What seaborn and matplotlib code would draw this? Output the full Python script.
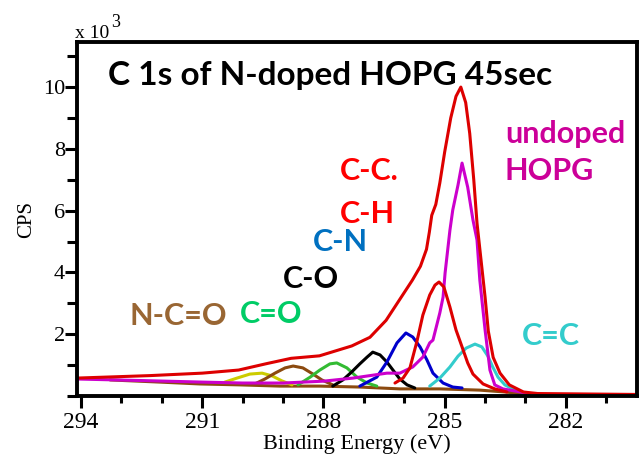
import numpy as np
import matplotlib
matplotlib.use("Agg")
import matplotlib.pyplot as plt
import seaborn as sns
from matplotlib.ticker import MultipleLocator

# ---- data (binding energy in eV, counts in x1000 CPS) ----
env_x = [294.1, 292.3, 291.0, 290.1, 289.4, 288.8, 288.1, 287.3, 286.85, 286.45,
         286.1, 285.8, 285.6, 285.45, 285.38, 285.32, 285.22, 285.12, 285.0, 284.85,
         284.72, 284.6, 284.48, 284.38, 284.28, 284.2, 284.1, 284.0, 283.92, 283.8,
         283.63, 283.4, 283.05, 282.7, 280.24]
env_y = [0.58, 0.66, 0.74, 0.84, 1.05, 1.22, 1.30, 1.62, 1.90, 2.45,
         3.15, 3.75, 4.2, 4.75, 5.3, 5.85, 6.2, 6.9, 7.9, 9.0,
         9.7, 10.0, 9.5, 8.5, 7.0, 5.6, 4.4, 3.2, 2.1, 1.25,
         0.74, 0.36, 0.13, 0.08, 0.05]

undoped_x = [294.1, 292.5, 291.0, 290.0, 289.0, 288.0, 287.27, 286.43, 286.11, 285.79,
             285.54, 285.37, 285.29, 285.12, 285.04, 284.99, 284.87, 284.80, 284.67, 284.57,
             284.43, 284.30, 284.20, 284.13, 284.0, 283.88, 283.76, 283.56, 282.9]
undoped_y = [0.55, 0.50, 0.45, 0.42, 0.42, 0.48, 0.58, 0.74, 0.74, 0.94,
             1.26, 1.72, 1.81, 2.69, 3.2, 3.98, 5.37, 6.02, 6.83, 7.54,
             6.76, 5.70, 5.05, 3.75, 2.14, 0.84, 0.36, 0.23, 0.08]

cc_x = [286.23, 286.03, 285.86, 285.69, 285.54, 285.37, 285.24, 285.14, 285.02, 284.87,
        284.72, 284.57, 284.43, 284.30, 284.05, 283.76, 283.46]
cc_y = [0.42, 0.58, 0.91, 1.75, 2.62, 3.27, 3.59, 3.69, 3.53, 2.88,
        2.14, 1.59, 1.07, 0.71, 0.39, 0.23, 0.13]

ceqc_x = [285.37, 285.12, 284.87, 284.67, 284.47, 284.25, 284.08, 283.93, 283.81, 283.68,
          283.51, 283.26]
ceqc_y = [0.32, 0.58, 0.94, 1.29, 1.55, 1.68, 1.59, 1.29, 0.94, 0.61,
          0.36, 0.19]

cn_x = [287.10, 286.68, 286.43, 286.18, 285.96, 285.79, 285.61, 285.44, 285.29, 285.04,
        284.80, 284.57]
cn_y = [0.32, 0.61, 1.10, 1.72, 2.04, 1.91, 1.59, 1.17, 0.74, 0.42,
        0.29, 0.26]

co_x = [287.77, 287.52, 287.30, 287.10, 286.92, 286.78, 286.60, 286.43, 286.28, 286.11,
        285.93, 285.74]
co_y = [0.32, 0.52, 0.78, 1.04, 1.26, 1.42, 1.33, 1.10, 0.84, 0.55,
        0.36, 0.26]

ceqo_x = [288.63, 288.33, 288.09, 287.84, 287.67, 287.42, 287.17, 286.92, 286.68]
ceqo_y = [0.36, 0.61, 0.84, 1.04, 1.07, 0.91, 0.61, 0.42, 0.32]

ncoo_x = [289.70, 289.45, 289.20, 288.95, 288.75, 288.51, 288.26, 288.04, 287.77]
ncoo_y = [0.39, 0.55, 0.74, 0.91, 0.97, 0.91, 0.71, 0.52, 0.36]

yel_x = [290.44, 290.14, 289.82, 289.52, 289.27, 289.03, 288.78]
yel_y = [0.45, 0.58, 0.71, 0.74, 0.65, 0.49, 0.36]

bg_x = [293.28, 292.05, 291.06, 290.07, 289.08, 288.09, 287.10, 286.11, 285.12, 284.13,
        283.51, 282.94]
bg_y = [0.52, 0.45, 0.39, 0.36, 0.32, 0.32, 0.29, 0.23, 0.23, 0.19,
        0.13, 0.06]

# peak labels: text, x, y (data coords of text baseline start), colour
labels = [
    ("C-C.", 287.59, 6.99, "#ff0000"),
    ("C-H", 287.59, 5.60, "#ff0000"),
    ("C-N", 288.26, 4.69, "#0070c0"),
    ("C-O", 289.00, 3.50, "#000000"),
    ("C=O", 290.07, 2.36, "#00cc66"),
    ("N-C=O", 292.79, 2.30, "#996633"),
    ("undoped", 283.51, 8.19, "#cc0099"),
    ("HOPG", 283.51, 6.99, "#cc0099"),
    ("C=C", 283.09, 1.65, "#33cccc"),
]

sns.set_style("ticks")
plt.rcParams["font.family"] = ["Liberation Serif", "DejaVu Serif"]
for k in ["text.color", "axes.labelcolor", "xtick.color", "ytick.color", "axes.edgecolor"]:
    plt.rcParams[k] = "black"

fig = plt.figure(figsize=(6.4, 4.57), dpi=100)
ax = fig.add_axes([77 / 640, 1 - 396 / 457, 560 / 640, 354 / 457])

lw = 2.2
curves = [
    (bg_x, bg_y, "#8b4a0f"),
    (yel_x, yel_y, "#cccc00"),
    (ncoo_x, ncoo_y, "#8b4a0f"),
    (ceqo_x, ceqo_y, "#33bb33"),
    (co_x, co_y, "#000000"),
    (cn_x, cn_y, "#0000cc"),
    (ceqc_x, ceqc_y, "#33cccc"),
    (undoped_x, undoped_y, "#cc00cc"),
    (cc_x, cc_y, "#dd0000"),
    (env_x, env_y, "#dd0000"),
]
for xs, ys, c in curves:
    sns.lineplot(x=xs, y=ys, ax=ax, color=c, lw=lw, sort=False, legend=False)

ax.set_xlim(294.1, 280.24)
ax.set_ylim(0, 11.46)

ax.set_xticks([294, 291, 288, 285, 282])
ax.xaxis.set_minor_locator(MultipleLocator(1))
ax.set_yticks([2, 4, 6, 8, 10])
ax.yaxis.set_minor_locator(MultipleLocator(1))

for s in ax.spines.values():
    s.set_linewidth(2.8)
    s.set_color("black")
    s.set_visible(True)

ax.tick_params(axis="x", which="major", direction="out", length=8.5, width=2.2,
               labelsize=17, pad=3, bottom=True, top=False)
ax.tick_params(axis="x", which="minor", direction="out", length=5, width=2.2,
               bottom=True, top=False)
ax.tick_params(axis="y", which="major", direction="out", length=8.5, width=2.2,
               labelsize=16, pad=0, left=True, right=False)
ax.tick_params(axis="y", which="minor", direction="out", length=7.5, width=2.2,
               left=True, right=False)

ax.set_xlabel("Binding Energy (eV)", fontsize=16, labelpad=1)
ax.set_ylabel("CPS", fontsize=15, labelpad=5)

fig.text(75 / 640, 1 - 38 / 457, "x 10", fontsize=14, ha="left", va="baseline")
fig.text(111 / 640, 1 - 27 / 457, "3", fontsize=13, ha="left", va="baseline")

ax.text(293.33, 10.06, "C 1s of N-doped HOPG 45sec", fontsize=24, fontweight="bold",
        family=["Lato", "DejaVu Sans"], ha="left", va="baseline")
for t, x, y, c in labels:
    ax.text(x, y, t, fontsize=22, fontweight="bold", color=c,
            family=["Lato", "DejaVu Sans"], ha="left", va="baseline")

fig.savefig("out.png", dpi=100)
